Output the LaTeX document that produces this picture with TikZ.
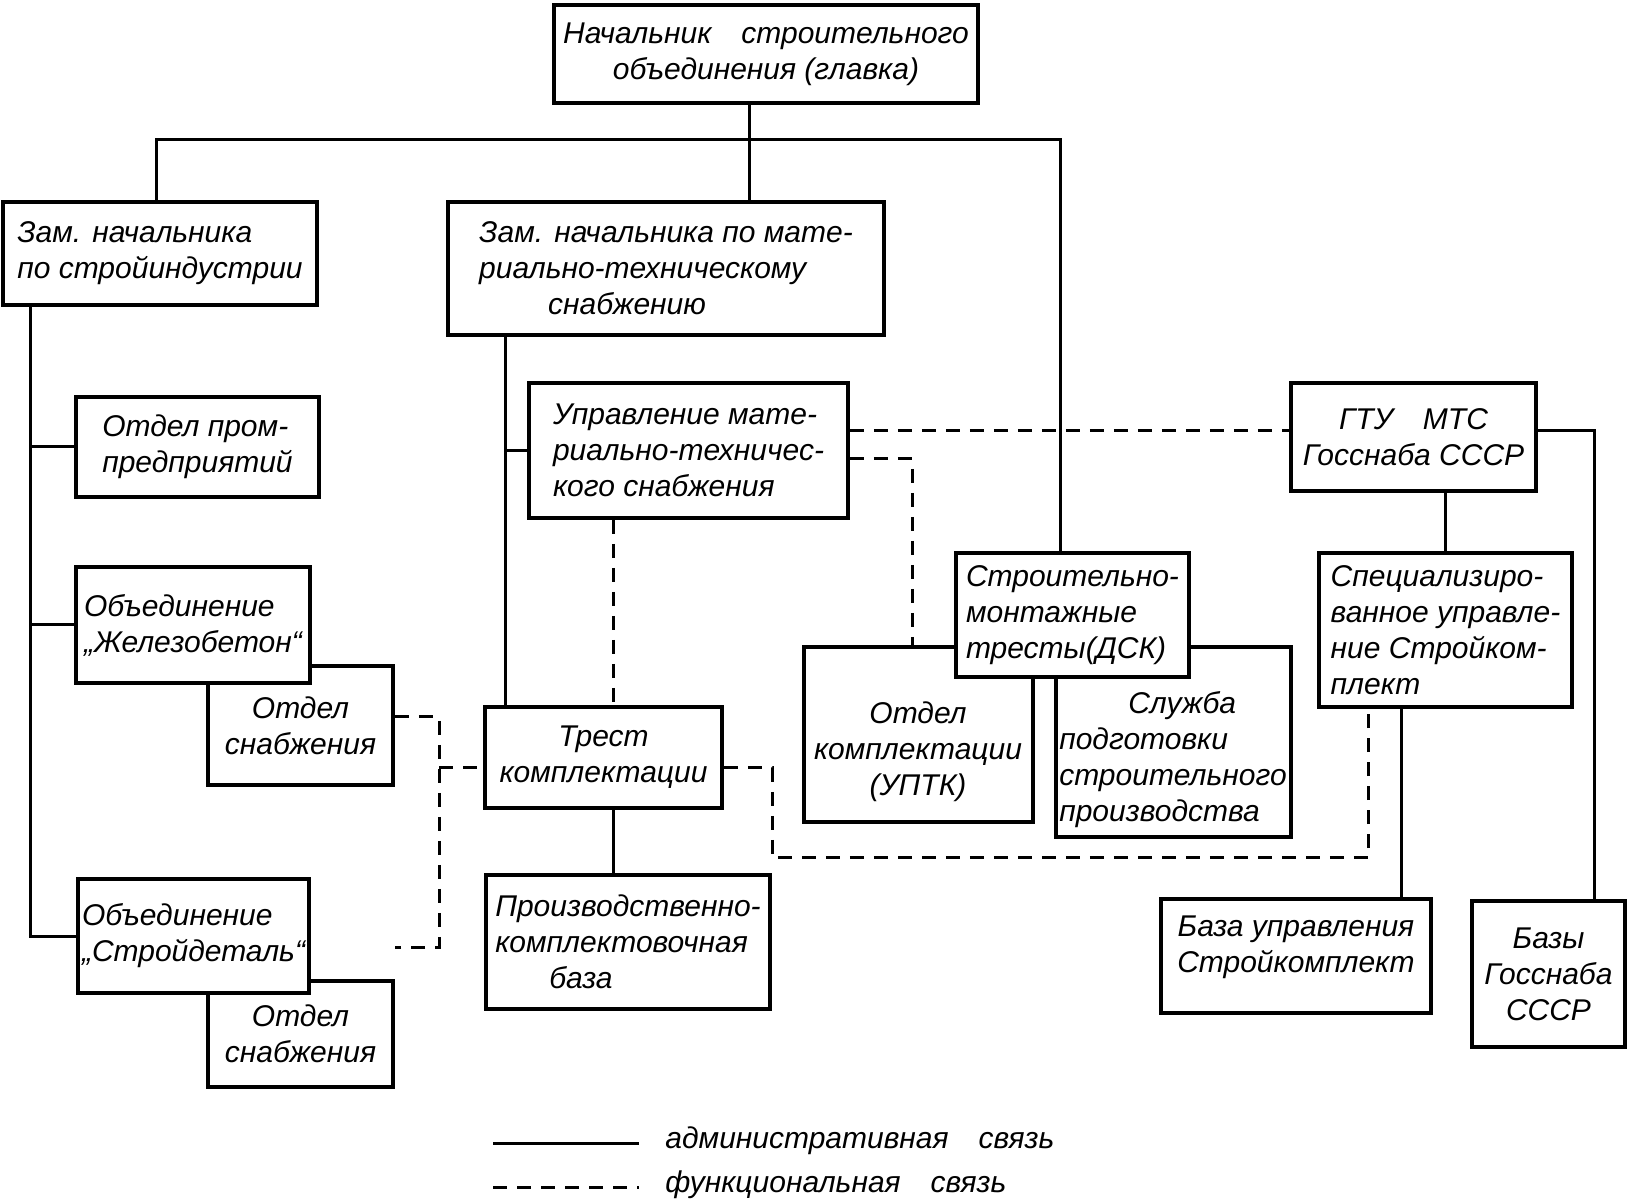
\documentclass[tikz,border=0pt]{standalone}
\usepackage{fontspec}
\setmainfont{Liberation Sans}
\tikzset{
  blok/.style={draw, fill=white, line width=1.9pt, inner sep=0pt, align=center,
    font=\itshape\fontsize{15}{18}\selectfont},
  txt/.style={inner sep=0pt, align=center, font=\itshape\fontsize{15}{18}\selectfont},
  adm/.style={line width=1.5pt},
  fun/.style={line width=1.5pt, dash pattern=on 7pt off 5pt},
}
\begin{document}
\begin{tikzpicture}[x=0.5pt, y=-0.5pt]
  \useasboundingbox (0,0) rectangle (1628,1202);
  % boxes
  \node[blok, minimum width=212pt, minimum height=49pt] (glav) at (766,54)
    {Начальник\quad строительного\\объединения (главка)};
  \node[blok, align=left, minimum width=157pt, minimum height=51.5pt] (zamind) at (160,253.5)
    {Зам. начальника\\по стройиндустрии};
  \node[blok, align=left, minimum width=218pt, minimum height=66.5pt] (zammts) at (666,268.5)
    {Зам. начальника по мате-\\риально-техническому\\\hspace*{2.3em}снабжению};
  \node[blok, align=left, minimum width=121.5pt, minimum height=50pt] (otdprom) at (197.5,447)
    {Отдел пром-\\предприятий};
  \node[blok, minimum width=92.5pt, minimum height=59.5pt] (snab1) at (300.5,725.5)
    {Отдел\\снабжения};
  \node[blok, align=left, minimum width=117pt, minimum height=58pt] (zhb) at (193,625)
    {Объединение\\„Железобетон“};
  \node[blok, minimum width=92.5pt, minimum height=53pt] (snab2) at (300.5,1034)
    {Отдел\\снабжения};
  \node[blok, align=left, minimum width=115.5pt, minimum height=57pt] (sd) at (193.5,936)
    {Объединение\\„Стройдеталь“};
  \node[blok, align=left, minimum width=159.5pt, minimum height=67.5pt] (umts) at (688.5,450.5)
    {Управление мате-\\риально-техничес-\\кого снабжения};
  \node[blok, minimum width=118.5pt, minimum height=50.5pt] (trest) at (603.5,757.5)
    {Трест\\комплектации};
  \node[blok, align=left, minimum width=142pt, minimum height=67pt] (pkb) at (628,942)
    {Производственно-\\комплектовочная\\\hspace*{1.8em}база};
  \node[blok, minimum width=114.5pt, minimum height=87.5pt] (uptk) at (918.5,734.5) {};
  \node[txt] (uptkt) at (918,752) {Отдел\\комплектации\\(УПТК)};
  \node[blok, minimum width=117.5pt, minimum height=95pt] (sluzhba) at (1173.5,742) {};
  \node[txt, align=left] (sluzhbat) at (1173,760)
    {\hspace*{2.3em}Служба\\подготовки\\строительного\\производства};
  \node[blok, align=left, minimum width=116.5pt, minimum height=62pt] (smt) at (1072.5,615)
    {Строительно-\\монтажные\\тресты(ДСК)};
  \node[blok, minimum width=122.5pt, minimum height=54pt] (gtu) at (1413.5,437)
    {ГТУ\quad МТС\\Госснаба СССР};
  \node[blok, align=left, minimum width=126.5pt, minimum height=77pt] (su) at (1445.5,630)
    {Специализиро-\\ванное управле-\\ние Стройком-\\плект};
  \node[blok, minimum width=135pt, minimum height=57pt] (bazasu) at (1296,956) {};
  \node[txt] (bazasut) at (1296,947) {База управления\\Стройкомплект};
  \node[blok, minimum width=76.5pt, minimum height=73pt] (bazgs) at (1548.5,974)
    {Базы\\Госснаба\\СССР};

  % administrative links
  \coordinate (bus) at (749,140);
  \coordinate (busL) at (156,140);
  \coordinate (busR) at (1060,140);
  \coordinate (trL) at (30,0);
  \coordinate (trM) at (505,0);
  \coordinate (trC) at (613,0);
  \coordinate (trS) at (1401,0);
  \coordinate (trG) at (1594,431);
  \begin{scope}[adm]
    \draw (glav.south -| bus) -- (zammts.north -| bus);
    \draw (zamind.north -| busL) -- (busL) -- (busR) -- (smt.north -| busR);
    \draw (zamind.south -| trL) |- (sd.west);
    \draw (otdprom.west) -- (otdprom.west -| trL);
    \draw (zhb.west) -- (zhb.west -| trL);
    \draw (zammts.south -| trM) -- (trest.north -| trM);
    \draw (umts.west) -- (umts.west -| trM);
    \draw (trest.south -| trC) -- (pkb.north -| trC);
    \draw (gtu.south -| su.north) -- (su.north);
    \draw (gtu.east |- trG) -| (bazgs.north -| trG);
    \draw (su.south -| trS) -- (bazasu.north -| trS);
  \end{scope}

  % functional links
  \coordinate (fA) at (1060,431);
  \coordinate (fB) at (912,459);
  \coordinate (fC) at (439,717);
  \coordinate (fE) at (439,947);
  \coordinate (fF) at (439,768);
  \coordinate (fG) at (772,858);
  \coordinate (fH) at (1368,858);
  \begin{scope}[fun]
    \draw (umts.east |- fA) -- (gtu.west |- fA);
    \draw (umts.east |- fB) -| (uptk.north -| fB);
    \draw (umts.south -| trC) -- (trest.north -| trC);
    \draw (snab1.east |- fC) -- (fC) -- (fE) -- (snab2.east |- fE);
    \draw (fF) -- (trest.west |- fF);
    \draw (trest.east |- fF) -| (fG) -- (fH) -- (su.south -| fH);
  \end{scope}

  % legend
  \draw[adm] (493,1143) -- ++(146,0);
  \node[txt, anchor=west] (ladm) at (665,1141) {административная\quad связь};
  \draw[fun] (493,1187) -- ++(146,0);
  \node[txt, anchor=west] (lfun) at (665,1185) {функциональная\quad связь};
\end{tikzpicture}
\end{document}
